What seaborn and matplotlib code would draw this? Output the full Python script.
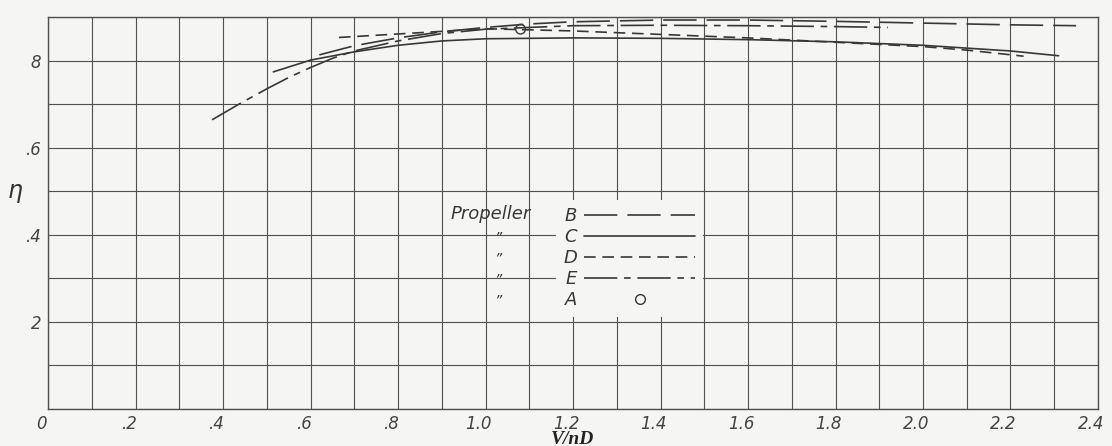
import numpy as np
import pandas as pd
import matplotlib
matplotlib.use("Agg")
import matplotlib.pyplot as plt
import seaborn as sns
from matplotlib.lines import Line2D
from matplotlib.transforms import ScaledTranslation

# ---------------- data ----------------
B_x = [0.62, 0.70, 0.80, 0.90, 1.00, 1.10, 1.20, 1.40, 1.60, 1.80, 2.00, 2.20, 2.35]
B_y = [0.813, 0.834, 0.852, 0.866, 0.876, 0.884, 0.889, 0.893, 0.893, 0.890, 0.886, 0.882, 0.880]

C_x = [0.515, 0.60, 0.70, 0.80, 0.90, 1.00, 1.20, 1.40, 1.60, 1.80, 2.00, 2.20, 2.31]
C_y = [0.774, 0.801, 0.820, 0.835, 0.845, 0.850, 0.852, 0.851, 0.848, 0.843, 0.835, 0.822, 0.811]

D_x = [0.665, 0.80, 1.00, 1.20, 1.40, 1.60, 1.80, 2.00, 2.10, 2.23]
D_y = [0.853, 0.861, 0.873, 0.868, 0.860, 0.852, 0.842, 0.832, 0.824, 0.810]

E_x = [0.375, 0.44, 0.50, 0.55, 0.60, 0.65, 0.70, 0.80, 0.90, 1.00, 1.20, 1.40, 1.60, 1.80, 1.92]
E_y = [0.664, 0.702, 0.735, 0.761, 0.784, 0.805, 0.822, 0.845, 0.862, 0.872, 0.880, 0.881, 0.880, 0.878, 0.876]

A_x = [1.08]
A_y = [0.872]

propellers = ["B", "C", "D", "E"]
legend_labels = ["B", "C", "D", "E", "A"]

x_ticks = [0.0, 0.1, 0.2, 0.3, 0.4, 0.5, 0.6, 0.7, 0.8, 0.9, 1.0, 1.1, 1.2,
           1.3, 1.4, 1.5, 1.6, 1.7, 1.8, 1.9, 2.0, 2.1, 2.2, 2.3, 2.4]
x_tick_labels = ["0", "", ".2", "", ".4", "", ".6", "", ".8", "", "1.0", "", "1.2",
                 "", "1.4", "", "1.6", "", "1.8", "", "2.0", "", "2.2", "", "2.4"]
y_ticks = [0.0, 0.1, 0.2, 0.3, 0.4, 0.5, 0.6, 0.7, 0.8, 0.9]
y_tick_labels = ["", "", "2", "", ".4", "", ".6", "", "8", ""]

# ---------------- styling ----------------
BG = "#f5f5f3"
INK = "#383838"
GRID = "#505050"

sns.set_theme(style="whitegrid")
plt.rcParams["font.family"] = ["DejaVu Sans"]

df = pd.concat([
    pd.DataFrame({"VnD": xs, "eta": ys, "prop": name})
    for name, xs, ys in [("B", B_x, B_y), ("C", C_x, C_y), ("D", D_x, D_y), ("E", E_x, E_y)]
], ignore_index=True)

dash_map = {"B": (20, 6), "C": "", "D": (7, 4), "E": (20, 4, 4, 4)}
palette = {p: INK for p in propellers}

fig = plt.figure(figsize=(11.12, 4.46), dpi=100, facecolor=BG)
ax = fig.add_axes([0.0432, 0.083, 0.9442, 0.8789])
ax.set_facecolor(BG)

sns.lineplot(data=df, x="VnD", y="eta", hue="prop", style="prop",
             palette=palette, dashes=dash_map, estimator=None, sort=False,
             linewidth=1.2, legend=False, ax=ax)

sns.scatterplot(x=A_x, y=A_y, marker="o", s=48, color=INK, linewidth=1.0,
                legend=False, ax=ax)
pts = ax.collections[-1]
pts.set_facecolor("none")
pts.set_edgecolor(INK)

ax.set_xlim(0, 2.4)
ax.set_ylim(0, 0.9)
ax.set_xticks(x_ticks)
ax.set_xticklabels(x_tick_labels)
ax.set_yticks(y_ticks)
ax.set_yticklabels(y_tick_labels)
ax.tick_params(length=0, labelsize=12, labelcolor="#444444")
ax.tick_params(axis="x", pad=4)
ax.tick_params(axis="y", pad=5)
for lab in ax.get_xticklabels() + ax.get_yticklabels():
    lab.set_fontstyle("italic")
shift = ScaledTranslation(-5 / 72, 0, fig.dpi_scale_trans)
for lab in ax.get_xticklabels():
    lab.set_transform(lab.get_transform() + shift)

ax.grid(True, color=GRID, linewidth=0.8)
for sp in ax.spines.values():
    sp.set_color(GRID)
    sp.set_linewidth(1.0)

ax.set_xlabel("V/nD", fontfamily="Liberation Serif", fontweight="bold",
              fontstyle="italic", fontsize=14, color="#222222", va="center")
ax.xaxis.set_label_coords(0.5, -0.078)
ax.set_ylabel(r"$\eta$", rotation=0, fontsize=17, color="#333333",
              va="center", ha="center")
ax.yaxis.set_label_coords(-0.031, 0.551)

# ---------------- legend ----------------
handles = [
    Line2D([], [], color=INK, lw=1.2, dashes=dash_map["B"]),
    Line2D([], [], color=INK, lw=1.2),
    Line2D([], [], color=INK, lw=1.2, dashes=dash_map["D"]),
    Line2D([], [], color=INK, lw=1.2, dashes=dash_map["E"]),
    Line2D([], [], color=INK, lw=1.0, ls="none", marker="o", ms=7, mfc="none", mec=INK),
]
leg = ax.legend(handles, legend_labels, loc="upper left", bbox_to_anchor=(0.4838, 0.5332),
                markerfirst=False, handlelength=6.15, handletextpad=0.4,
                labelspacing=0.17, borderpad=0.4, borderaxespad=0, frameon=True,
                fancybox=False, facecolor=BG, edgecolor="none", framealpha=1,
                prop={"family": "DejaVu Sans", "style": "italic", "size": 13})
for t in leg.get_texts():
    t.set_color(INK)

ax.text(0.383, 0.497, "Propeller", transform=ax.transAxes, fontsize=13,
        fontstyle="italic", color=INK, va="center", ha="left")
for yy in [0.438, 0.384, 0.331, 0.277]:
    ax.text(0.4286, yy, "\u201d", transform=ax.transAxes, fontsize=10,
            fontstyle="italic", color=INK, va="center", ha="center")

fig.savefig("out.png", dpi=100, facecolor=BG)
